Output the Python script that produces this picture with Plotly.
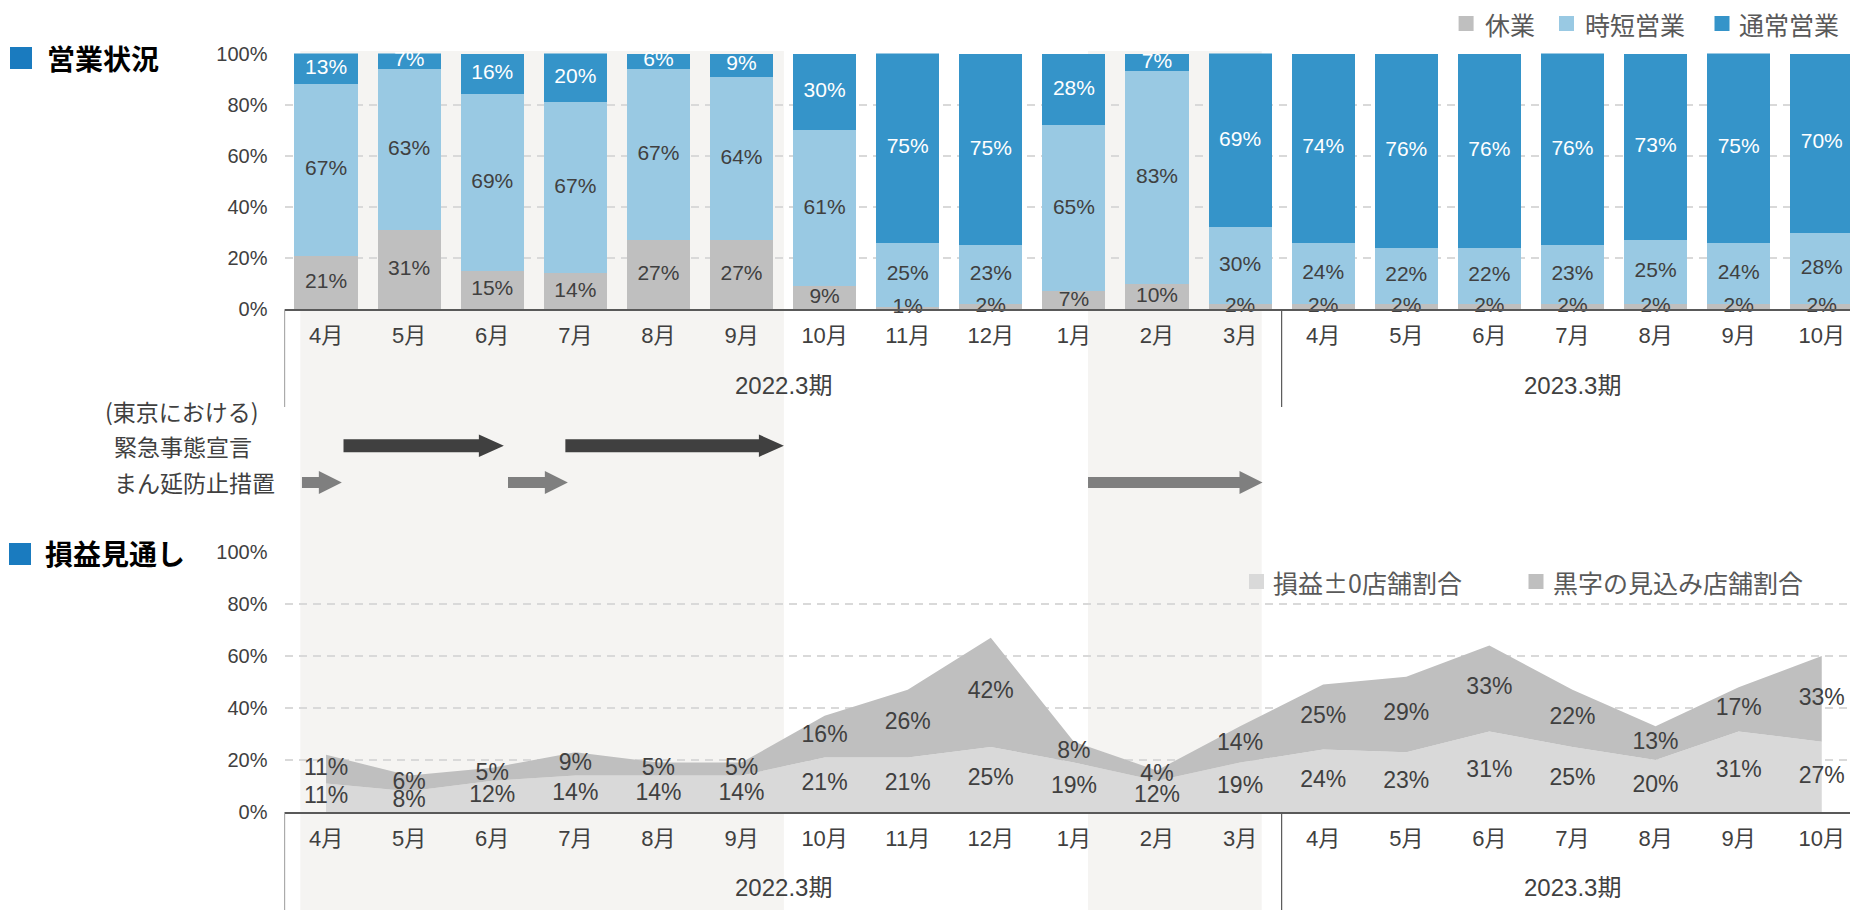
import plotly.graph_objects as go

W, H = 1850, 910

# ---------------- data ----------------
months = ["4月", "5月", "6月", "7月", "8月", "9月", "10月", "11月", "12月", "1月", "2月", "3月",
          "4月", "5月", "6月", "7月", "8月", "9月", "10月"]
fiscal_periods = ["2022.3期", "2023.3期"]
fiscal_month_counts = [12, 7]
y_ticks = [0, 20, 40, 60, 80, 100]
y_tick_labels = ["0%", "20%", "40%", "60%", "80%", "100%"]

closed = [21, 31, 15, 14, 27, 27, 9, 1, 2, 7, 10, 2, 2, 2, 2, 2, 2, 2, 2]          # 休業
shortened = [67, 63, 69, 67, 67, 64, 61, 25, 23, 65, 83, 30, 24, 22, 22, 23, 25, 24, 28]  # 時短営業
normal = [13, 7, 16, 20, 6, 9, 30, 75, 75, 28, 7, 69, 74, 76, 76, 76, 73, 75, 70]   # 通常営業

breakeven = [11, 8, 12, 14, 14, 14, 21, 21, 25, 19, 12, 19, 24, 23, 31, 25, 20, 31, 27]  # 損益±0店舗割合
profit = [11, 6, 5, 9, 5, 5, 16, 26, 42, 8, 4, 14, 25, 29, 33, 22, 13, 17, 33]          # 黒字の見込み店舗割合

# Tokyo restriction periods, as fractional month positions (0 = first month)
emergency_periods = [(0.21, 2.14), (2.88, 5.51)]           # 緊急事態宣言
priority_periods = [(-0.29, 0.19), (2.19, 2.91), (9.17, 11.27)]  # まん延防止措置
shaded_periods = [(-0.31, 5.51), (9.17, 11.26)]

# ---------------- style ----------------
C_CLOSED = "#bfbfbf"
C_SHORT = "#99c9e3"
C_NORMAL = "#3594c9"
C_AREA_LOW = "#d9d9d9"
C_AREA_HIGH = "#bfbfbf"
C_BAND = "#f5f4f2"
C_TEXT = "#404040"
C_TITLE_SQ = "#1a7bbf"
FONT = "Liberation Sans, Noto Sans CJK JP, sans-serif"
CJK = "Noto Sans CJK JP, sans-serif"

PLOT_L = 284.5
X_RANGE = [-0.5, 18.34]
PXU = (W - PLOT_L) / (X_RANGE[1] - X_RANGE[0])  # pixels per category


def px(xp):
    return xp / W


def py(yp):
    return 1 - yp / H


TOP_DOM = [py(309.3), py(53.5)]
BOT_DOM = [py(812.0), py(552.0)]

xs = list(range(len(months)))

fig = go.Figure()

# ---- top: stacked bars ----
series = [("休業", closed, C_CLOSED, C_TEXT),
          ("時短営業", shortened, C_SHORT, C_TEXT),
          ("通常営業", normal, C_NORMAL, "white")]
cum = [0] * len(xs)
for name, vals, col, tcol in series:
    fig.add_trace(go.Bar(x=xs, y=vals, name=name, marker=dict(color=col, line=dict(width=0)),
                         width=0.76, xaxis="x", yaxis="y", showlegend=False, hoverinfo="skip"))
    mids = []
    for i, v in enumerate(vals):
        lo = cum[i]
        hi = min(100, cum[i] + v)
        mids.append((lo + hi) / 2)
        cum[i] += v
    fig.add_trace(go.Scatter(x=xs, y=mids, mode="text", text=[f"{v}%" for v in vals],
                             textfont=dict(size=21, color=tcol, family=FONT),
                             xaxis="x", yaxis="y", showlegend=False, hoverinfo="skip",
                             cliponaxis=False))

# ---- bottom: stacked areas ----
fig.add_trace(go.Scatter(x=xs, y=breakeven, name="損益±0店舗割合", stackgroup="one", mode="none",
                         fillcolor=C_AREA_LOW, xaxis="x2", yaxis="y2", showlegend=False,
                         hoverinfo="skip"))
fig.add_trace(go.Scatter(x=xs, y=profit, name="黒字の見込み店舗割合", stackgroup="one", mode="none",
                         fillcolor=C_AREA_HIGH, xaxis="x2", yaxis="y2", showlegend=False,
                         hoverinfo="skip"))
fig.add_trace(go.Scatter(x=xs, y=[b / 2 for b in breakeven], mode="text",
                         text=[f"{v}%" for v in breakeven],
                         textfont=dict(size=23, color=C_TEXT, family=FONT),
                         xaxis="x2", yaxis="y2", showlegend=False, hoverinfo="skip", cliponaxis=False))
fig.add_trace(go.Scatter(x=xs, y=[b + p / 2 for b, p in zip(breakeven, profit)], mode="text",
                         text=[f"{v}%" for v in profit],
                         textfont=dict(size=23, color=C_TEXT, family=FONT),
                         xaxis="x2", yaxis="y2", showlegend=False, hoverinfo="skip", cliponaxis=False))

# ---- axes ----
xcommon = dict(range=X_RANGE, domain=[px(PLOT_L), 1], tickmode="array", tickvals=xs, ticktext=months,
               showline=True, linecolor="#595959", linewidth=1.5, ticks="", showgrid=False,
               zeroline=False, tickfont=dict(size=22, color=C_TEXT, family=FONT),
               ticklabelstandoff=6, automargin=False, fixedrange=True)
ycommon = dict(range=[0, 100], tickmode="array", tickvals=y_ticks, ticktext=y_tick_labels,
               showgrid=True, gridcolor="#d9d9d9", griddash="8px,6px", gridwidth=1.5,
               zeroline=False, showline=False, ticks="",
               tickfont=dict(size=20, color=C_TEXT, family=FONT),
               ticklabelstandoff=16, automargin=False, fixedrange=True)

fig.update_layout(
    xaxis=dict(anchor="y", **xcommon),
    yaxis=dict(anchor="x", domain=TOP_DOM, **ycommon),
    xaxis2=dict(anchor="y2", **xcommon),
    yaxis2=dict(anchor="x2", domain=BOT_DOM, **ycommon),
    barmode="stack",
    width=W, height=H, autosize=False,
    margin=dict(l=0, r=0, t=0, b=0, pad=0),
    paper_bgcolor="white", plot_bgcolor="rgba(0,0,0,0)",
    font=dict(family=FONT, color=C_TEXT),
    hovermode=False,
    showlegend=False,
)

shapes = []
annotations = []

# shaded bands
for a, b in shaded_periods:
    shapes.append(dict(type="rect", xref="x", yref="paper", x0=a, x1=b, y0=0, y1=py(51),
                       fillcolor=C_BAND, line=dict(width=0), layer="below"))

# period dividers and labels
start = 0
bounds = [-0.5]
for name, cnt in zip(fiscal_periods, fiscal_month_counts):
    center = start + (cnt - 1) / 2
    for ypix in (385, 887):
        annotations.append(dict(x=center, xref="x", y=py(ypix), yref="paper", text=name,
                                showarrow=False, xanchor="center", yanchor="middle",
                                font=dict(size=24, color=C_TEXT, family=FONT)))
    start += cnt
    bounds.append(start - 0.5)
for bx in bounds:
    if X_RANGE[0] <= bx <= X_RANGE[1]:
        shapes.append(dict(type="line", xref="x", yref="paper", x0=bx, x1=bx, y0=py(309.3), y1=py(407),
                           line=dict(color="#595959", width=1.2)))
        shapes.append(dict(type="line", xref="x", yref="paper", x0=bx, x1=bx, y0=py(812), y1=0,
                           line=dict(color="#595959", width=1.2)))


# arrows
def arrow_path(x0, x1, yc, hs, hh, hl):
    xh = x1 - hl / PXU
    yc_ = py(yc)
    s = hs / H
    h = hh / H
    return (f"M{x0},{yc_ - s} L{xh},{yc_ - s} L{xh},{yc_ - h} L{x1},{yc_} "
            f"L{xh},{yc_ + h} L{xh},{yc_ + s} L{x0},{yc_ + s} Z")


for a, b in emergency_periods:
    shapes.append(dict(type="path", xref="x", yref="paper", path=arrow_path(a, b, 445.7, 6.5, 11.2, 25),
                       fillcolor="#404040", line=dict(width=0), layer="above"))
for a, b in priority_periods:
    shapes.append(dict(type="path", xref="x", yref="paper", path=arrow_path(a, b, 482.5, 5.5, 11.5, 23),
                       fillcolor="#7f7f7f", line=dict(width=0), layer="above"))

# row labels
for txt, xpix, ypix in [("(東京における)", 103, 411), ("緊急事態宣言", 112, 446), ("まん延防止措置", 112, 482)]:
    annotations.append(dict(x=px(xpix), xref="paper", y=py(ypix), yref="paper", text=txt,
                            showarrow=False, xanchor="left", yanchor="middle",
                            font=dict(size=23, color=C_TEXT, family=CJK)))

# section titles
for txt, sq_x, sq_y, tx, ty in [("営業状況", 10, 47, 45, 58), ("損益見通し", 9, 543, 43, 553)]:
    shapes.append(dict(type="rect", xref="paper", yref="paper", x0=px(sq_x), x1=px(sq_x + 22),
                       y0=py(sq_y + 22), y1=py(sq_y), fillcolor=C_TITLE_SQ, line=dict(width=0)))
    annotations.append(dict(x=px(tx), xref="paper", y=py(ty), yref="paper", text=f"<b>{txt}</b>",
                            showarrow=False, xanchor="left", yanchor="middle",
                            font=dict(size=28, color="black", family=CJK)))

# legends
legend_items = [("休業", C_CLOSED, 1458.6, 1483, 23.5),
                ("時短営業", C_SHORT, 1559.0, 1583, 23.5),
                ("通常営業", C_NORMAL, 1714.5, 1737, 23.5),
                ("損益±0店舗割合", C_AREA_LOW, 1249.0, 1271, 581.5),
                ("黒字の見込み店舗割合", C_AREA_HIGH, 1528.5, 1551, 581.5)]
for txt, col, sqx, tx, cy in legend_items:
    shapes.append(dict(type="rect", xref="paper", yref="paper", x0=px(sqx), x1=px(sqx + 15),
                       y0=py(cy + 7.5), y1=py(cy - 7.5), fillcolor=col, line=dict(width=0)))
    annotations.append(dict(x=px(tx), xref="paper", y=py(cy), yref="paper", text=txt,
                            showarrow=False, xanchor="left", yanchor="middle",
                            font=dict(size=25, color="#595959", family=CJK)))

fig.update_layout(shapes=shapes, annotations=annotations)

fig.write_html("out.html", config={"displayModeBar": False})
